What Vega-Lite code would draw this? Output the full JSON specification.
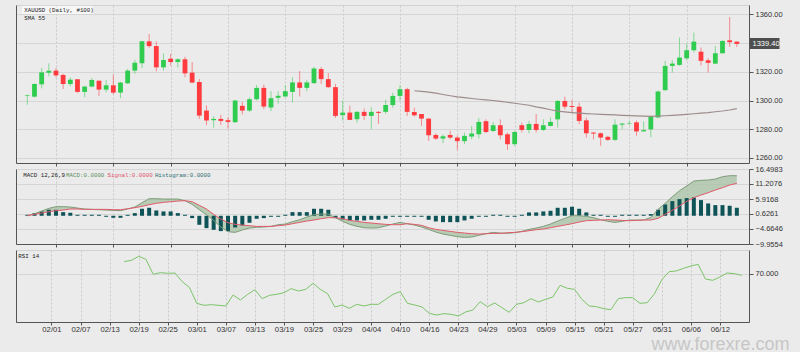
{
  "$schema": "https://vega.github.io/schema/vega-lite/v6.json",
  "background": "#ebebeb",
  "padding": {"left": 15, "top": 4, "right": 12, "bottom": 0},
  "bounds": "flush",
  "spacing": 6,
  "config": {
    "view": {"stroke": "#d2d2d2"},
    "axis": {"labelFont": "Liberation Sans", "labelFontSize": 7.5, "labelColor": "#333333", "domainColor": "#555555", "tickColor": "#555555", "gridColor": "#d6d6d6", "labelFontWeight": "normal"},
    "text": {"font": "Liberation Mono", "fontSize": 5.8}
  },
  "data": {"values": [
    {"i":0,"o":1303.2,"h":1304.2,"l":1297,"c":1303.6,"macd":0.03,"sig":0.03,"hist":0.35},
    {"i":1,"o":1302.7,"h":1312,"l":1302,"c":1311.5,"macd":0.73,"sig":0.5,"hist":0.94},
    {"i":2,"o":1311.3,"h":1322.6,"l":1308.5,"c":1319.6,"macd":1.67,"sig":0.97,"hist":1.53},
    {"i":3,"o":1319.4,"h":1325.9,"l":1316.9,"c":1320.8,"macd":2.61,"sig":1.44,"hist":2.12},
    {"i":4,"o":1320.8,"h":1322.6,"l":1316.2,"c":1317.5,"macd":3.2,"sig":1.79,"hist":2.12},
    {"i":5,"o":1317.8,"h":1318.5,"l":1308,"c":1311.5,"macd":3.2,"sig":2.02,"hist":1.29},
    {"i":6,"o":1311.5,"h":1316.2,"l":1309.9,"c":1314.5,"macd":3.08,"sig":2.38,"hist":1.06},
    {"i":7,"o":1314.8,"h":1314.8,"l":1305.3,"c":1306,"macd":2.73,"sig":2.38,"hist":0.35},
    {"i":8,"o":1306,"h":1310.2,"l":1302.3,"c":1309.7,"macd":2.38,"sig":2.26,"hist":0.35},
    {"i":9,"o":1309.7,"h":1315.7,"l":1309.2,"c":1314.3,"macd":2.26,"sig":2.26,"hist":0.35},
    {"i":10,"o":1313.8,"h":1313.8,"l":1303.2,"c":1307.6,"macd":2.14,"sig":2.26,"hist":0.35},
    {"i":11,"o":1307.6,"h":1314.3,"l":1305.8,"c":1310.6,"macd":2.02,"sig":2.26,"hist":-0.35},
    {"i":12,"o":1310.6,"h":1318,"l":1304.4,"c":1305.5,"macd":1.91,"sig":2.14,"hist":-0.71},
    {"i":13,"o":1305.5,"h":1313,"l":1301.6,"c":1312.5,"macd":1.79,"sig":2.14,"hist":-0.71},
    {"i":14,"o":1312,"h":1322,"l":1311.5,"c":1320.8,"macd":2.38,"sig":2.49,"hist":0.35,"rsi":78.32},
    {"i":15,"o":1320.8,"h":1328.2,"l":1318.5,"c":1326.3,"macd":3.08,"sig":2.85,"hist":0.94,"rsi":79.24},
    {"i":16,"o":1325.9,"h":1341.6,"l":1322.6,"c":1341.2,"macd":4.61,"sig":3.32,"hist":2.47,"rsi":81.98},
    {"i":17,"o":1341.2,"h":1346.3,"l":1336.6,"c":1337.9,"macd":6.02,"sig":3.9,"hist":2.82,"rsi":79.92},
    {"i":18,"o":1337.9,"h":1341.2,"l":1320.3,"c":1323.1,"macd":6.02,"sig":4.38,"hist":1.88,"rsi":69.65},
    {"i":19,"o":1323.1,"h":1332.8,"l":1320.8,"c":1328.2,"macd":5.9,"sig":4.73,"hist":1.53,"rsi":70.79},
    {"i":20,"o":1329.1,"h":1332.4,"l":1324.3,"c":1326.8,"macd":5.9,"sig":4.96,"hist":1.53,"rsi":70.33},
    {"i":21,"o":1326.8,"h":1329.6,"l":1323.1,"c":1328.7,"macd":5.9,"sig":5.2,"hist":0.94,"rsi":70.56},
    {"i":22,"o":1328.7,"h":1330.5,"l":1316.2,"c":1318.9,"macd":5.32,"sig":5.32,"hist":0.35,"rsi":64.63},
    {"i":23,"o":1319.4,"h":1326.8,"l":1312,"c":1312.5,"macd":4.02,"sig":4.96,"hist":-0.82,"rsi":60.52},
    {"i":24,"o":1312.9,"h":1315,"l":1287.2,"c":1289.5,"macd":2.14,"sig":3.67,"hist":-3.18,"rsi":49.78},
    {"i":25,"o":1293,"h":1296.5,"l":1282.8,"c":1286.1,"macd":0.38,"sig":2.38,"hist":-4.35,"rsi":48.42},
    {"i":26,"o":1286.3,"h":1289.1,"l":1281,"c":1287.2,"macd":-1.62,"sig":0.5,"hist":-4.94,"rsi":48.87},
    {"i":27,"o":1287.2,"h":1290,"l":1283,"c":1285.8,"macd":-3.97,"sig":-1.15,"hist":-5.41,"rsi":48.42},
    {"i":28,"o":1286.3,"h":1288.4,"l":1280.3,"c":1285.1,"macd":-5.62,"sig":-2.44,"hist":-5.41,"rsi":47.96},
    {"i":29,"o":1284.9,"h":1300.4,"l":1284.4,"c":1300,"macd":-5.85,"sig":-3.03,"hist":-4.12,"rsi":55.49},
    {"i":30,"o":1296.3,"h":1299,"l":1290.3,"c":1293,"macd":-5.03,"sig":-3.27,"hist":-3.41,"rsi":52.07},
    {"i":31,"o":1293,"h":1302.3,"l":1291.9,"c":1300.9,"macd":-4.33,"sig":-3.5,"hist":-2.47,"rsi":55.95},
    {"i":32,"o":1300.9,"h":1310.8,"l":1300,"c":1308.8,"macd":-4.09,"sig":-3.74,"hist":-1.06,"rsi":59.15},
    {"i":33,"o":1308.8,"h":1311,"l":1294,"c":1295.8,"macd":-3.97,"sig":-3.74,"hist":-0.82,"rsi":52.98},
    {"i":34,"o":1295.1,"h":1306.5,"l":1292.6,"c":1301.6,"macd":-3.74,"sig":-3.74,"hist":-0.35,"rsi":55.27},
    {"i":35,"o":1301.9,"h":1306.5,"l":1297.7,"c":1303.3,"macd":-3.15,"sig":-3.5,"hist":-0.35,"rsi":55.95},
    {"i":36,"o":1302.8,"h":1310.7,"l":1302.3,"c":1306.5,"macd":-2.92,"sig":-3.27,"hist":0.35,"rsi":57.09},
    {"i":37,"o":1306,"h":1316.3,"l":1298.6,"c":1312.6,"macd":-2.09,"sig":-2.8,"hist":1.29,"rsi":59.83},
    {"i":38,"o":1312.6,"h":1320.5,"l":1302.8,"c":1308.8,"macd":-1.39,"sig":-2.33,"hist":1.29,"rsi":58.23},
    {"i":39,"o":1308.8,"h":1314.4,"l":1306.5,"c":1312.6,"macd":-0.45,"sig":-1.86,"hist":1.29,"rsi":59.37},
    {"i":40,"o":1312.1,"h":1323.3,"l":1311.6,"c":1322.3,"macd":0.38,"sig":-1.5,"hist":2.47,"rsi":63.48},
    {"i":41,"o":1321.9,"h":1323.3,"l":1311.6,"c":1314.9,"macd":0.61,"sig":-1.03,"hist":2.47,"rsi":59.37},
    {"i":42,"o":1314.9,"h":1319.1,"l":1308.8,"c":1309.3,"macd":0.61,"sig":-0.68,"hist":2.12,"rsi":56.41},
    {"i":43,"o":1309.3,"h":1311.6,"l":1287.9,"c":1289.3,"macd":-0.68,"sig":-0.68,"hist":-0.82,"rsi":47.27},
    {"i":44,"o":1289.8,"h":1300,"l":1286,"c":1291.6,"macd":-1.97,"sig":-1.03,"hist":-1.29,"rsi":48.64},
    {"i":45,"o":1291.6,"h":1296.5,"l":1286.3,"c":1286.5,"macd":-3.03,"sig":-1.62,"hist":-1.65,"rsi":46.36},
    {"i":46,"o":1287,"h":1292.6,"l":1284.7,"c":1292.1,"macd":-3.74,"sig":-1.97,"hist":-1.65,"rsi":49.1},
    {"i":47,"o":1292.1,"h":1294.4,"l":1286.5,"c":1289.3,"macd":-4.21,"sig":-2.33,"hist":-1.65,"rsi":47.96},
    {"i":48,"o":1289.3,"h":1295.3,"l":1280,"c":1292.1,"macd":-4.33,"sig":-2.56,"hist":-1.41,"rsi":49.1},
    {"i":49,"o":1292.1,"h":1292.6,"l":1283.7,"c":1291.4,"macd":-4.21,"sig":-2.8,"hist":-1.41,"rsi":49.1},
    {"i":50,"o":1292.1,"h":1300.5,"l":1290.7,"c":1296.9,"macd":-3.62,"sig":-3.03,"hist":-1.06,"rsi":52.52},
    {"i":51,"o":1296.8,"h":1305.5,"l":1295,"c":1303.2,"macd":-2.92,"sig":-3.15,"hist":-0.35,"rsi":55.95},
    {"i":52,"o":1303.2,"h":1310.6,"l":1299.7,"c":1307.9,"macd":-2.33,"sig":-3.15,"hist":-0.35,"rsi":57.78},
    {"i":53,"o":1307.9,"h":1308.8,"l":1289.3,"c":1292.1,"macd":-2.8,"sig":-2.8,"hist":-0.35,"rsi":49.78},
    {"i":54,"o":1292,"h":1295,"l":1288.8,"c":1289.7,"sma":1306.8,"macd":-3.27,"sig":-3.03,"hist":-0.35,"rsi":48.64},
    {"i":55,"o":1290.6,"h":1290.6,"l":1282.3,"c":1287.4,"sma":1306.3,"macd":-3.97,"sig":-3.38,"hist":-0.35,"rsi":47.27},
    {"i":56,"o":1287.4,"h":1287.4,"l":1271.9,"c":1275.8,"sma":1305.9,"macd":-4.8,"sig":-4.21,"hist":-1.41,"rsi":42.94},
    {"i":57,"o":1276,"h":1277.2,"l":1272.6,"c":1273.5,"sma":1305.1,"macd":-5.74,"sig":-4.8,"hist":-2.0,"rsi":41.79},
    {"i":58,"o":1273.5,"h":1276.5,"l":1270.3,"c":1275.1,"sma":1304.2,"macd":-6.44,"sig":-5.15,"hist":-2.24,"rsi":42.71},
    {"i":59,"o":1276,"h":1279,"l":1273,"c":1274.2,"sma":1303.3,"macd":-6.91,"sig":-5.5,"hist":-2.24,"rsi":42.25},
    {"i":60,"o":1274.2,"h":1275.4,"l":1265.6,"c":1271.7,"sma":1302.5,"macd":-7.38,"sig":-5.85,"hist":-2.24,"rsi":41.11},
    {"i":61,"o":1271.7,"h":1277.7,"l":1269.6,"c":1275.4,"sma":1302.0,"macd":-7.62,"sig":-6.09,"hist":-1.65,"rsi":43.85},
    {"i":62,"o":1274.9,"h":1282.3,"l":1273,"c":1277,"sma":1301.4,"macd":-7.5,"sig":-6.32,"hist":-1.06,"rsi":45.22},
    {"i":63,"o":1276.5,"h":1287.9,"l":1273.5,"c":1285.1,"sma":1300.9,"macd":-6.91,"sig":-6.44,"hist":-0.35,"rsi":50.93},
    {"i":64,"o":1285.6,"h":1286.9,"l":1277.2,"c":1278.1,"sma":1300.5,"macd":-6.32,"sig":-6.32,"hist":-0.35,"rsi":47.5},
    {"i":65,"o":1278.8,"h":1285.1,"l":1278.1,"c":1282.8,"sma":1300.0,"macd":-5.85,"sig":-6.21,"hist":0.35,"rsi":50.01},
    {"i":66,"o":1282.8,"h":1286.9,"l":1273,"c":1275.8,"sma":1299.4,"macd":-6.09,"sig":-6.21,"hist":0.35,"rsi":46.82},
    {"i":67,"o":1276.5,"h":1277.7,"l":1265.6,"c":1269.6,"sma":1298.8,"macd":-6.21,"sig":-5.97,"hist":-0.35,"rsi":43.62},
    {"i":68,"o":1269.6,"h":1278.8,"l":1268.4,"c":1278.1,"sma":1298.1,"macd":-5.97,"sig":-5.85,"hist":-0.35,"rsi":49.1},
    {"i":69,"o":1282.8,"h":1284.6,"l":1277.7,"c":1279.5,"sma":1297.4,"macd":-5.5,"sig":-5.62,"hist":0.35,"rsi":50.24},
    {"i":70,"o":1279.5,"h":1285.8,"l":1277.2,"c":1283.7,"sma":1296.7,"macd":-4.8,"sig":-5.27,"hist":1.18,"rsi":52.98},
    {"i":71,"o":1283.7,"h":1290.6,"l":1277.7,"c":1279.5,"sma":1295.6,"macd":-4.33,"sig":-4.92,"hist":1.18,"rsi":50.7},
    {"i":72,"o":1279.5,"h":1286.9,"l":1278.8,"c":1282.8,"sma":1294.7,"macd":-3.74,"sig":-4.68,"hist":1.53,"rsi":52.52},
    {"i":73,"o":1282.3,"h":1288.1,"l":1281.9,"c":1285.1,"sma":1293.6,"macd":-2.92,"sig":-4.21,"hist":1.76,"rsi":54.12},
    {"i":74,"o":1286.9,"h":1300.4,"l":1281.2,"c":1299.7,"sma":1292.6,"macd":-1.86,"sig":-3.74,"hist":2.82,"rsi":62.11},
    {"i":75,"o":1299.7,"h":1302.7,"l":1293.9,"c":1295.7,"sma":1292.1,"macd":-0.92,"sig":-3.27,"hist":2.82,"rsi":60.06},
    {"i":76,"o":1296.2,"h":1300.4,"l":1292,"c":1295.5,"sma":1291.6,"macd":0.03,"sig":-2.8,"hist":3.18,"rsi":59.37},
    {"i":77,"o":1295.7,"h":1298.5,"l":1283.5,"c":1285.8,"sma":1291.2,"macd":0.03,"sig":-2.21,"hist":2.47,"rsi":52.52},
    {"i":78,"o":1286.2,"h":1288.1,"l":1274.2,"c":1277.2,"sma":1290.9,"macd":-0.21,"sig":-1.74,"hist":1.18,"rsi":47.96},
    {"i":79,"o":1277.7,"h":1278.1,"l":1273,"c":1277,"sma":1290.6,"macd":-0.68,"sig":-1.62,"hist":0.35,"rsi":47.5},
    {"i":80,"o":1277.2,"h":1277.7,"l":1268.4,"c":1274.2,"sma":1290.4,"macd":-1.39,"sig":-1.5,"hist":0.35,"rsi":46.13},
    {"i":81,"o":1274.7,"h":1275.4,"l":1271.9,"c":1272.6,"sma":1290.2,"macd":-1.97,"sig":-1.39,"hist":-0.35,"rsi":45.45},
    {"i":82,"o":1272.6,"h":1286.9,"l":1271.9,"c":1283.2,"sma":1290.0,"macd":-2.33,"sig":-1.5,"hist":-0.35,"rsi":52.98},
    {"i":83,"o":1283.2,"h":1284.6,"l":1280,"c":1283.9,"sma":1289.7,"macd":-1.97,"sig":-1.62,"hist":0.35,"rsi":53.67},
    {"i":84,"o":1283.8,"h":1286,"l":1283.1,"c":1284.1,"sma":1289.5,"macd":-1.5,"sig":-1.74,"hist":0.35,"rsi":53.67},
    {"i":85,"o":1284.8,"h":1286,"l":1275.5,"c":1278.5,"sma":1289.3,"macd":-1.5,"sig":-1.62,"hist":0.35,"rsi":49.78},
    {"i":86,"o":1278.5,"h":1285.5,"l":1278.5,"c":1279.4,"sma":1289.1,"macd":-1.5,"sig":-1.5,"hist":0.35,"rsi":50.24},
    {"i":87,"o":1279.9,"h":1289.4,"l":1274.4,"c":1288.7,"sma":1288.9,"macd":-0.56,"sig":-1.5,"hist":0.59,"rsi":56.41},
    {"i":88,"o":1288.2,"h":1306.8,"l":1287.8,"c":1306.3,"sma":1289.1,"macd":2.26,"sig":-0.92,"hist":2.12,"rsi":65.96},
    {"i":89,"o":1307.2,"h":1327.6,"l":1306.8,"c":1324.1,"sma":1289.4,"macd":4.38,"sig":0.5,"hist":4.0,"rsi":71.47},
    {"i":90,"o":1324.1,"h":1328,"l":1319.5,"c":1325.7,"sma":1289.7,"macd":6.73,"sig":1.91,"hist":5.18,"rsi":71.93},
    {"i":91,"o":1324.8,"h":1343.8,"l":1324.1,"c":1329.9,"sma":1290.0,"macd":8.84,"sig":3.44,"hist":5.88,"rsi":73.76},
    {"i":92,"o":1329.4,"h":1339.6,"l":1328,"c":1335,"sma":1290.4,"macd":10.49,"sig":5.08,"hist":6.24,"rsi":75.36},
    {"i":93,"o":1335,"h":1347.3,"l":1333.4,"c":1341,"sma":1290.8,"macd":12.25,"sig":6.37,"hist":6.47,"rsi":76.5},
    {"i":94,"o":1334,"h":1336.9,"l":1324.4,"c":1327.6,"sma":1291.2,"macd":12.49,"sig":7.31,"hist":5.53,"rsi":66.45},
    {"i":95,"o":1328,"h":1329.4,"l":1319.5,"c":1326.2,"sma":1291.6,"macd":12.61,"sig":8.14,"hist":4.35,"rsi":65.54},
    {"i":96,"o":1325.7,"h":1338,"l":1325.3,"c":1332.9,"sma":1292.2,"macd":12.96,"sig":9.08,"hist":3.76,"rsi":67.82},
    {"i":97,"o":1332.9,"h":1341.9,"l":1332.7,"c":1341.5,"sma":1292.7,"macd":13.78,"sig":9.9,"hist":3.76,"rsi":70.56},
    {"i":98,"o":1341.9,"h":1358.1,"l":1337.3,"c":1340.6,"sma":1293.4,"macd":14.13,"sig":10.84,"hist":3.53,"rsi":70.1},
    {"i":99,"o":1341,"h":1341,"l":1337.3,"c":1339.4,"sma":1294.3,"macd":14.13,"sig":11.43,"hist":2.82,"rsi":68.96}
  ]},
  "vconcat": [
    {
      "width": 733,
      "height": 158,
      "layer": [
        {
          "mark": {"type": "rule", "strokeWidth": 1, "opacity": 0.55},
          "encoding": {
            "x": {"field": "i", "type": "quantitative", "scale": {"domain": [-0.881, 100], "nice": false, "zero": false},
                  "axis": {"title": null, "values": [4,8,12,16,20,24,28,32,36,40,44,48,52,56,60,64,68,72,76,80,84,88,92,96], "labels": false, "tickSize": 3, "grid": true, "gridDash": [2,2], "gridColor": "#c9c9c9"}},
            "y": {"field": "l", "type": "quantitative", "scale": {"domain": [1256.5, 1366.5], "nice": false, "zero": false},
                  "axis": {"title": null, "orient": "right", "values": [1260,1280,1300,1320,1340,1360], "grid": true,
                           "labelExpr": "datum.value == 1340 ? '1339.40' : format(datum.value, '.2f')",
                           "tickSize": {"condition": {"test": "datum.value == 1340", "value": 30}, "value": 4},
                           "tickWidth": {"condition": {"test": "datum.value == 1340", "value": 11}, "value": 1},
                           "tickColor": {"condition": {"test": "datum.value == 1340", "value": "#4e4e4e"}, "value": "#555555"},
                           "labelColor": {"condition": {"test": "datum.value == 1340", "value": "#ffffff"}, "value": "#333333"},
                           "labelPadding": {"condition": {"test": "datum.value == 1340", "value": -27}, "value": 2}}},
            "y2": {"field": "h"},
            "color": {"condition": {"test": "datum.c >= datum.o", "value": "#2fcc4f"}, "value": "#ff3b3f"}
          }
        },
        {
          "mark": {"type": "bar", "width": 4.8},
          "encoding": {
            "x": {"field": "i", "type": "quantitative"},
            "y": {"field": "o", "type": "quantitative", "axis": {"title": null, "orient": "left", "labels": false, "ticks": false, "grid": false, "domain": true, "domainColor": "#555555"}},
            "y2": {"field": "c"},
            "color": {"condition": {"test": "datum.c >= datum.o", "value": "#2fcc4f"}, "value": "#ff3b3f"}
          }
        },
        {
          "mark": {"type": "line", "color": "#9e8c8c", "strokeWidth": 1.2},
          "encoding": {
            "x": {"field": "i", "type": "quantitative"},
            "y": {"field": "sma", "type": "quantitative", "axis": null}
          }
        },
        {
          "data": {"values": [{}]},
          "mark": {"type": "rect", "fill": "#ffffff", "opacity": 0.6},
          "encoding": {
            "x": {"datum": -0.74, "type": "quantitative"},
            "x2": {"datum": 9.1},
            "y": {"datum": 1360.3, "type": "quantitative", "axis": null},
            "y2": {"datum": 1366.0}
          }
        },
        {
          "data": {"values": [{}]},
          "mark": {"type": "text", "align": "left", "baseline": "middle", "color": "#222222"},
          "encoding": {
            "x": {"datum": -0.43, "type": "quantitative"},
            "y": {"datum": 1363.2, "type": "quantitative", "axis": null},
            "text": {"value": "XAUUSD (Daily, #100)"}
          }
        },
        {
          "data": {"values": [{}]},
          "mark": {"type": "text", "align": "left", "baseline": "middle", "color": "#222222"},
          "encoding": {
            "x": {"datum": -0.43, "type": "quantitative"},
            "y": {"datum": 1357.2, "type": "quantitative", "axis": null},
            "text": {"value": "SMA 55"}
          }
        }
      ],
      "resolve": {"axis": {"y": "independent"}}
    },
    {
      "width": 733,
      "height": 75,
      "layer": [
        {
          "mark": {"type": "area", "color": "#a7c0a3", "opacity": 0.75},
          "encoding": {
            "x": {"field": "i", "type": "quantitative", "scale": {"domain": [-0.881, 100], "nice": false, "zero": false},
                  "axis": {"title": null, "values": [4,8,12,16,20,24,28,32,36,40,44,48,52,56,60,64,68,72,76,80,84,88,92,96], "labels": false, "tickSize": 3, "grid": true, "gridDash": [2,2], "gridColor": "#c9c9c9"}},
            "y": {"field": "macd", "type": "quantitative", "scale": {"domain": [-9.9554, 16.4983], "nice": false, "zero": false},
                  "axis": {"title": null, "orient": "right", "values": [-9.9554,-4.6646,0.6261,5.9168,11.2076,16.4983], "format": ".4f", "tickSize": 4, "labelPadding": 2, "grid": true}},
            "y2": {"field": "sig"}
          }
        },
        {
          "mark": {"type": "bar", "width": 4, "color": "#0e5357"},
          "encoding": {
            "x": {"field": "i", "type": "quantitative"},
            "y": {"field": "hist", "type": "quantitative", "axis": {"title": null, "orient": "left", "labels": false, "ticks": false, "grid": false, "domain": true, "domainColor": "#555555"}},
            "y2": {"datum": 0}
          }
        },
        {
          "mark": {"type": "line", "color": "#7d9c79", "strokeWidth": 1},
          "encoding": {
            "x": {"field": "i", "type": "quantitative"},
            "y": {"field": "macd", "type": "quantitative", "axis": null}
          }
        },
        {
          "mark": {"type": "line", "color": "#e25a6a", "strokeWidth": 1},
          "encoding": {
            "x": {"field": "i", "type": "quantitative"},
            "y": {"field": "sig", "type": "quantitative", "axis": null}
          }
        },
        {
          "data": {"values": [{}]},
          "mark": {"type": "text", "align": "left", "baseline": "middle", "color": "#222222"},
          "encoding": {"x": {"datum": -0.565, "type": "quantitative"}, "y": {"datum": 14.3, "type": "quantitative", "axis": null}, "text": {"value": "MACD 12,26,9"}}
        },
        {
          "data": {"values": [{}]},
          "mark": {"type": "text", "align": "left", "baseline": "middle", "color": "#5b8e5b"},
          "encoding": {"x": {"datum": 5.41, "type": "quantitative"}, "y": {"datum": 14.3, "type": "quantitative", "axis": null}, "text": {"value": "MACD:0.0000"}}
        },
        {
          "data": {"values": [{}]},
          "mark": {"type": "text", "align": "left", "baseline": "middle", "color": "#e0506a"},
          "encoding": {"x": {"datum": 11.19, "type": "quantitative"}, "y": {"datum": 14.3, "type": "quantitative", "axis": null}, "text": {"value": "Signal:0.0000"}}
        },
        {
          "data": {"values": [{}]},
          "mark": {"type": "text", "align": "left", "baseline": "middle", "color": "#2b6e72"},
          "encoding": {"x": {"datum": 17.8, "type": "quantitative"}, "y": {"datum": 14.3, "type": "quantitative", "axis": null}, "text": {"value": "Histogram:0.0000"}}
        }
      ],
      "resolve": {"axis": {"y": "independent"}}
    },
    {
      "width": 733,
      "height": 72,
      "layer": [
        {
          "mark": {"type": "line", "color": "#7cc46a", "strokeWidth": 1},
          "encoding": {
            "x": {"field": "i", "type": "quantitative", "scale": {"domain": [-0.881, 100], "nice": false, "zero": false},
                  "axis": {"values": [4,8,12,16,20,24,28,32,36,40,44,48,52,56,60,64,68,72,76,80,84,88,92,96], "tickSize": 3, "labelPadding": 0.5, "grid": true, "gridDash": [2,2], "gridColor": "#c9c9c9", "labelFontSize": 7.7, "labelOverlap": false, "labelFlush": false, "labelBound": false,
                           "labelExpr": "['02/01','02/07','02/13','02/19','02/25','03/01','03/07','03/13','03/19','03/25','03/29','04/04','04/10','04/16','04/23','04/29','05/03','05/09','05/15','05/21','05/27','05/31','06/06','06/12'][round((datum.value-4)/4)]",
                           "title": "www.forexre.com", "titleFont": "Liberation Sans", "titleFontSize": 18, "titleFontWeight": "normal", "titleColor": "#c6c6c6",
                           "titleAlign": "right", "titleBaseline": "alphabetic", "titleX": 773, "titleY": 27}},
            "y": {"field": "rsi", "type": "quantitative", "scale": {"domain": [37.0, 86.31], "nice": false, "zero": false},
                  "axis": {"title": null, "orient": "right", "values": [70], "format": ".3f", "tickSize": 4, "labelPadding": 2, "grid": true}}
          }
        },
        {
          "data": {"values": [{}]},
          "mark": {"type": "text", "align": "left", "baseline": "middle", "color": "#222222"},
          "encoding": {
            "x": {"datum": -0.565, "type": "quantitative", "axis": null},
            "y": {"datum": 82.0, "type": "quantitative", "axis": {"title": null, "orient": "left", "labels": false, "ticks": false, "grid": false, "domain": true, "domainColor": "#555555"}},
            "text": {"value": "RSI 14"}
          }
        }
      ],
      "resolve": {"axis": {"x": "independent", "y": "independent"}}
    }
  ]
}
